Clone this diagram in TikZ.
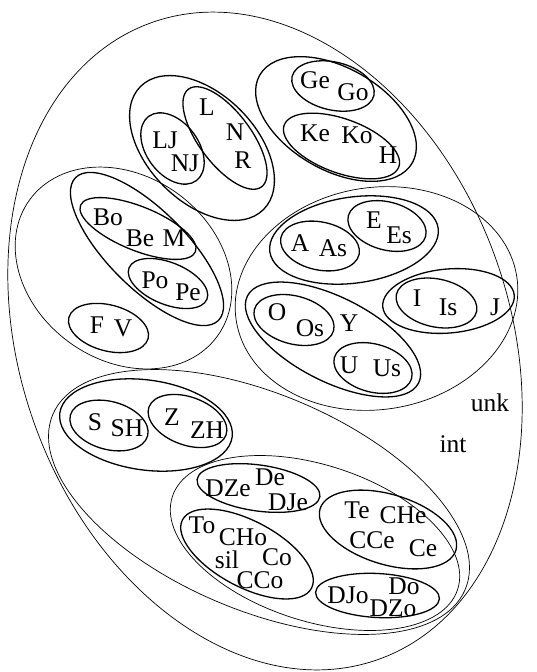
\documentclass[tikz,border=0pt]{standalone}
\usepackage{fontspec}
\setmainfont{Liberation Serif}
\begin{document}
\begin{tikzpicture}[x=1pt,y=-1pt,
  thinline/.style={line width=0.7pt},
  thickline/.style={line width=1.3pt},
  lbl/.style={font=\fontsize{25.5}{26}\selectfont, inner sep=0pt}]
\useasboundingbox (0,0) rectangle (537,672);
% outer
\draw[thinline, rotate around={19.6:(265,341)}] (265,341) ellipse [x radius=245, y radius=338];
% L group
\draw[thickline, rotate around={-45:(202,148)}] (202,148) ellipse [x radius=87, y radius=54];
\draw[thickline, rotate around={-53.4:(172.5,148.5)}] (172.5,148.5) ellipse [x radius=40, y radius=26];
\draw[thickline, rotate around={-53.2:(225,138)}] (225,138) ellipse [x radius=61, y radius=26];
% G group
\draw[thickline, rotate around={-30:(336,119)}] (336,119) ellipse [x radius=88, y radius=51];
\draw[thickline, rotate around={-13:(333,86)}] (333,86) ellipse [x radius=42, y radius=24];
\draw[thickline, rotate around={-20:(341.5,146)}] (341.5,146) ellipse [x radius=61, y radius=27];
% left region
\draw[thinline, rotate around={-36:(123.5,268)}] (123.5,268) ellipse [x radius=116, y radius=92];
\draw[thickline, rotate around={-45:(147,249)}] (147,249) ellipse [x radius=101, y radius=39];
\draw[thickline, rotate around={-22:(138,228.5)}] (138,228.5) ellipse [x radius=62, y radius=22];
\draw[thickline, rotate around={-22:(168,283.5)}] (168,283.5) ellipse [x radius=42, y radius=21];
\draw[thickline, rotate around={-15:(108.5,328)}] (108.5,328) ellipse [x radius=41, y radius=23];
% vowel region
\draw[thinline, rotate around={9:(376.5,298.5)}] (376.5,298.5) ellipse [x radius=142, y radius=111];
\draw[thickline, rotate around={8:(354,240)}] (354,240) ellipse [x radius=85, y radius=43];
\draw[thickline, rotate around={-12:(320,246)}] (320,246) ellipse [x radius=40, y radius=24];
\draw[thickline, rotate around={-15:(387,226)}] (387,226) ellipse [x radius=40, y radius=24];
\draw[thickline, rotate around={5:(448.5,301)}] (448.5,301) ellipse [x radius=66, y radius=32];
\draw[thickline, rotate around={-12:(436.5,303)}] (436.5,303) ellipse [x radius=41, y radius=24];
\draw[thickline, rotate around={-27:(333,339.5)}] (333,339.5) ellipse [x radius=96, y radius=42];
\draw[thickline, rotate around={-15:(294,320)}] (294,320) ellipse [x radius=41, y radius=24];
\draw[thickline, rotate around={-15:(373,368)}] (373,368) ellipse [x radius=40, y radius=24];
% consonant region
\draw[thinline, rotate around={-23:(259,502)}] (259,502) ellipse [x radius=224, y radius=108];
\draw[thickline, rotate around={-8:(146,425)}] (146,425) ellipse [x radius=87, y radius=45];
\draw[thickline, rotate around={-15:(109,425.5)}] (109,425.5) ellipse [x radius=40, y radius=24];
\draw[thickline, rotate around={-20:(187.5,421)}] (187.5,421) ellipse [x radius=41, y radius=24];
% DT region
\draw[thinline, rotate around={-18:(315,543)}] (315,543) ellipse [x radius=150, y radius=78];
\draw[thickline, rotate around={-8:(258.5,488)}] (258.5,488) ellipse [x radius=62, y radius=23];
\draw[thickline, rotate around={-17:(388,529.5)}] (388,529.5) ellipse [x radius=71, y radius=35];
\draw[thickline, rotate around={-28:(247,554)}] (247,554) ellipse [x radius=73, y radius=33];
\draw[thickline, rotate around={-3:(377.5,595.5)}] (377.5,595.5) ellipse [x radius=62, y radius=22];
% labels
\node[lbl] (tL) at (207,107) {L};
\node[lbl] (tN) at (235,132) {N};
\node[lbl] (tR) at (243,160) {R};
\node[lbl] (tLJ) at (165,140) {LJ};
\node[lbl] (tNJ) at (185,163) {NJ};
\node[lbl] (tGe) at (315,80) {Ge};
\node[lbl] (tGo) at (353,92) {Go};
\node[lbl] (tKe) at (315,133) {Ke};
\node[lbl] (tKo) at (357,135) {Ko};
\node[lbl] (tH) at (388,155) {H};
\node[lbl] (tBo) at (108,217) {Bo};
\node[lbl] (tBe) at (140,238) {Be};
\node[lbl] (tM) at (174,238) {M};
\node[lbl] (tPo) at (155,280) {Po};
\node[lbl] (tPe) at (188,292) {Pe};
\node[lbl] (tF) at (97,325) {F};
\node[lbl] (tV) at (123,328) {V};
\node[lbl] (tA) at (300,243) {A};
\node[lbl] (tAs) at (333,248) {As};
\node[lbl] (tE) at (374,220) {E};
\node[lbl] (tEs) at (399,235) {Es};
\node[lbl] (tI) at (417,298) {I};
\node[lbl] (tIs) at (448,307) {Is};
\node[lbl] (tJ) at (495,307) {J};
\node[lbl] (tO) at (277,312) {O};
\node[lbl] (tOs) at (310,328) {Os};
\node[lbl] (tY) at (349,323) {Y};
\node[lbl] (tU) at (349,365) {U};
\node[lbl] (tUs) at (387,368) {Us};
\node[lbl] (tunk) at (490,403) {unk};
\node[lbl] (tint) at (453,444) {int};
\node[lbl] (tS) at (95,422) {S};
\node[lbl] (tSH) at (127,428) {SH};
\node[lbl] (tZ) at (172,417) {Z};
\node[lbl] (tZH) at (207,430) {ZH};
\node[lbl] (tDZe) at (228,488) {DZe};
\node[lbl] (tDe) at (270,477) {De};
\node[lbl] (tDJe) at (288,502) {DJe};
\node[lbl] (tTe) at (357,510) {Te};
\node[lbl] (tCHe) at (403,515) {CHe};
\node[lbl] (tCCe) at (372,540) {CCe};
\node[lbl] (tCe) at (423,548) {Ce};
\node[lbl] (tTo) at (202,525) {To};
\node[lbl] (tCHo) at (243,537) {CHo};
\node[lbl] (tCo) at (277,557) {Co};
\node[lbl] (tsil) at (227,560) {sil};
\node[lbl] (tCCo) at (260,580) {CCo};
\node[lbl] (tDJo) at (348,595) {DJo};
\node[lbl] (tDo) at (404,586) {Do};
\node[lbl] (tDZo) at (393,608) {DZo};
\end{tikzpicture}
\end{document}
